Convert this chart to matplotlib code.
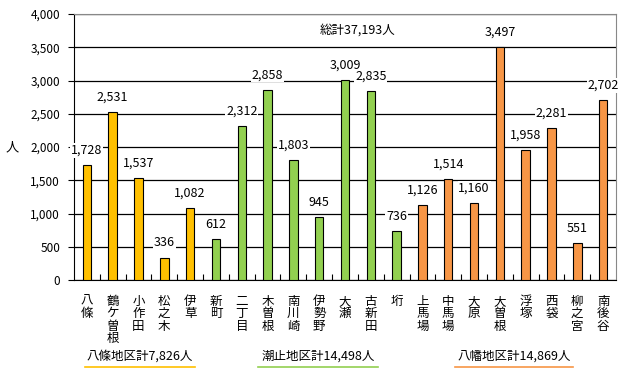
import matplotlib.pyplot as plt
import numpy as np

plt.rcParams['font.family'] = ['Noto Sans CJK JP', 'DejaVu Sans']

names = ["八條", "鶴ケ曽根", "小作田", "松之木", "伊草", "新町",
         "二丁目", "木曽根", "南川崎", "伊勢野", "大瀬", "古新田", "垳",
         "上馬場", "中馬場", "大原", "大曽根", "浮塚", "西袋", "柳之宮", "南後谷"]
values = [1728, 2531, 1537, 336, 1082, 612,
          2312, 2858, 1803, 945, 3009, 2835, 736,
          1126, 1514, 1160, 3497, 1958, 2281, 551, 2702]
groups = ["y"] * 5 + ["g"] * 8 + ["o"] * 8
group_labels = ["八條地区計7,826人", "潮止地区計14,498人", "八幡地区計14,869人"]
total_label = "総計37,193人"

colors = {"y": "#FFC000", "g": "#92D050", "o": "#F79646"}

fig = plt.figure(figsize=(6.29, 3.81), dpi=100)
ax = fig.add_axes([74 / 629, 1 - 280 / 381, 542 / 629, 266 / 381])

x = np.arange(len(values))
ax.bar(x, values, width=0.33, color=[colors[g] for g in groups],
       edgecolor="black", linewidth=0.8, zorder=3)

ax.set_xlim(-0.5, len(values) - 0.5)
ax.set_ylim(0, 4000)
ax.set_yticks(np.arange(0, 4001, 500))
ax.set_yticklabels([f"{v:,}" for v in range(0, 4001, 500)], fontsize=8.5)
ax.yaxis.grid(True, color="black", linewidth=0.9, zorder=0)
ax.tick_params(axis="y", length=4, direction="out", pad=6)

# category boundary ticks, pointing into the plot
ax.set_xticks(np.arange(0.5, len(values) - 0.5, 1.0))
ax.set_xticklabels([])
ax.tick_params(axis="x", length=4, direction="in")
for i, n in enumerate(names):
    ax.text(i, -0.055, "\n".join(n), transform=ax.get_xaxis_transform(),
            ha="center", va="top", fontsize=9, linespacing=0.95)

for s in ["top", "right"]:
    ax.spines[s].set_color("#888888")
for s in ["left", "bottom"]:
    ax.spines[s].set_color("black")

for i, v in enumerate(values):
    ax.annotate(f"{v:,}", (i, v), xytext=(0, 6), textcoords="offset points",
                ha="center", va="bottom", fontsize=9,
                bbox=dict(facecolor="white", edgecolor="none", pad=0.5), zorder=4)

ax.text(10.5, 3760, total_label, ha="center", va="center", fontsize=9,
        bbox=dict(facecolor="white", edgecolor="none", pad=0.5), zorder=4)

fig.text(12 / 629, 1 - 148 / 381, "人", ha="center", va="center", fontsize=9.5)

# group labels with coloured underlines
group_pos = [(140, 85, 195, "y"), (318, 258, 378, "g"), (514, 455, 573, "o")]
for lab, (cx, x0, x1, g) in zip(group_labels, group_pos):
    fig.text(cx / 629, 1 - 356 / 381, lab, ha="center", va="center", fontsize=9)
    fig.add_artist(plt.Line2D([x0 / 629, x1 / 629], [1 - 367 / 381] * 2,
                              color=colors[g], linewidth=1.2))

fig.savefig("out.png", dpi=100)
